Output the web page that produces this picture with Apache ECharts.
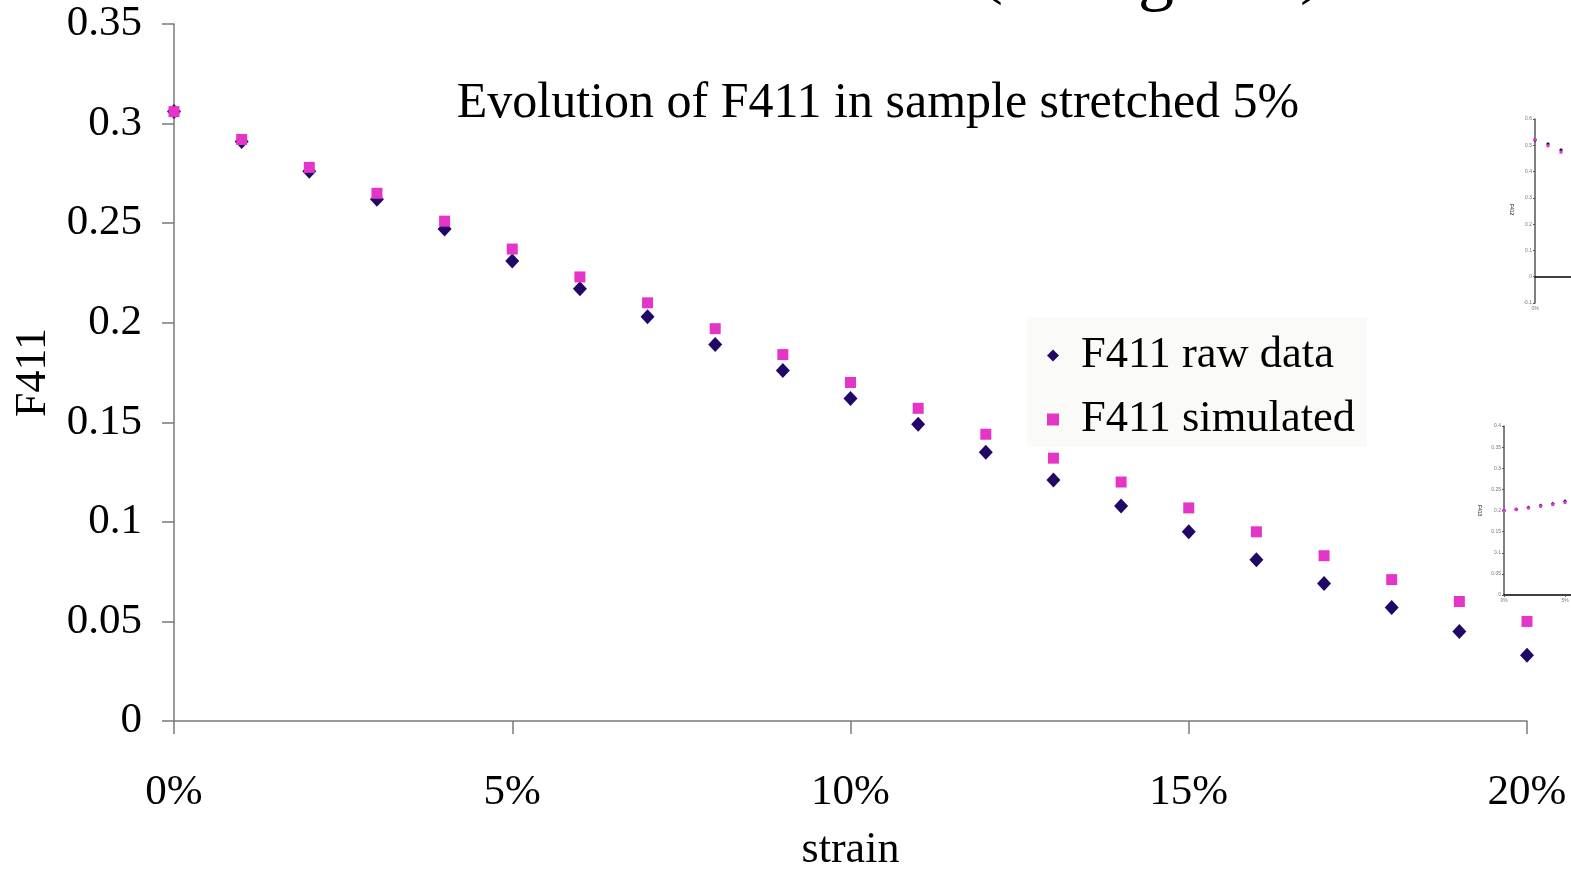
<!DOCTYPE html>
<html>
<head>
<meta charset="utf-8">
<script src="https://cdn.jsdelivr.net/npm/echarts@6/dist/echarts.min.js"></script>
<style>
html,body{margin:0;padding:0;background:#fff;}
#c{width:1571px;height:870px;}
</style>
</head>
<body>
<div id="c"></div>
<script>
// ---- data ----
const strain = [0,1,2,3,4,5,6,7,8,9,10,11,12,13,14,15,16,17,18,19,20]; // %
const rawData = [0.306,0.291,0.276,0.262,0.247,0.231,0.217,0.203,0.189,0.176,0.162,0.149,0.135,0.121,0.108,0.095,0.081,0.069,0.057,0.045,0.033];
const simData = [0.306,0.292,0.278,0.265,0.251,0.237,0.223,0.210,0.197,0.184,0.170,0.157,0.144,0.132,0.120,0.107,0.095,0.083,0.071,0.060,0.050];
const yTicks = [0,0.05,0.1,0.15,0.2,0.25,0.3,0.35];
const xTicks = [0,5,10,15,20];
// inset charts (partly visible at right edge)
const inset1Strain = [0,1,2];
const inset1Raw = [0.520,0.505,0.482];
const inset1Sim = [0.522,0.498,0.474];
const inset2Strain = [0,1,2,3,4,5];
const inset2Raw = [0.200,0.203,0.207,0.212,0.216,0.222];
const inset2Sim = [0.200,0.202,0.206,0.210,0.214,0.219];

const F = '"Liberation Serif", "Times New Roman", serif';
const AX = '#7a7a7a';
const DARK = '#220866';
const MAG = '#e535c9';

const pair = (xs, ys) => xs.map((x, i) => [x, ys[i]]);

const chart = echarts.init(document.getElementById('c'));
const smallAxis = {
  axisLine:{lineStyle:{color:'#555',width:1}},
  axisTick:{show:true,length:2,lineStyle:{color:'#555'}},
  axisLabel:{fontSize:5,color:'#777',margin:3},
  splitLine:{show:false}
};
chart.setOption({
  animation:false,
  backgroundColor:'#ffffff',
  graphic:[
    {type:'text',x:979,y:-65,style:{text:'(',font:'72px '+F,fill:'#000'}},
    {type:'text',x:1138,y:-58,style:{text:'g',font:'72px '+F,fill:'#000'}},
    {type:'text',x:1300,y:-65,style:{text:')',font:'72px '+F,fill:'#000'}},
    {type:'text',x:878,y:104,style:{text:'Evolution of F411 in sample stretched 5%',font:'50px '+F,fill:'#000',align:'center',verticalAlign:'middle'}},
    {type:'text',x:1514,y:204,rotation:-Math.PI/2,style:{text:'F412',font:'bold 5px Arial',fill:'#555'}},
    {type:'text',x:1482,y:505,rotation:-Math.PI/2,style:{text:'F413',font:'bold 5px Arial',fill:'#555'}}
  ],
  legend:{
    orient:'vertical',
    left:1027, top:317,
    backgroundColor:'#fafaf8',
    padding:[16,12,5,20],
    itemGap:19,
    itemWidth:12, itemHeight:12,
    textStyle:{fontFamily:F,fontSize:44.5,color:'#000',lineHeight:44,padding:[0,0,0,17]},
    data:[{name:'F411 raw data',icon:'diamond',itemStyle:{color:DARK}},{name:'F411 simulated',icon:'rect',itemStyle:{color:MAG}}]
  },
  grid:[
    {left:174,right:44,top:24,bottom:149,outerBoundsMode:'none',containLabel:false},
    {left:1535,top:119,width:260,height:184,outerBoundsMode:'none',containLabel:false},
    {left:1504,top:426,width:244,height:169,outerBoundsMode:'none',containLabel:false}
  ],
  xAxis:[
    {gridIndex:0,type:'value',min:0,max:20,interval:5,
     name:'strain',nameLocation:'middle',nameGap:107,
     nameTextStyle:{fontFamily:F,fontSize:44,color:'#000'},
     axisLine:{lineStyle:{color:AX,width:1.5}},
     axisTick:{show:true,length:13,lineStyle:{color:AX,width:1.5}},
     axisLabel:{fontFamily:F,fontSize:43,color:'#000',margin:50,formatter:'{value}%'},
     splitLine:{show:false}},
    {gridIndex:1,type:'value',min:0,max:20,interval:5,
     axisLabel:{fontSize:5,color:'#777',margin:3,formatter:'{value}%'},
     axisLine:{onZero:true,lineStyle:{color:'#000',width:1.5}},axisTick:{show:false},splitLine:{show:false}},
    Object.assign({gridIndex:2,type:'value',min:0,max:20,interval:5},smallAxis,{axisLine:{lineStyle:{color:'#000',width:1.5}},axisLabel:{fontSize:5,color:'#777',margin:3,formatter:'{value}%'}})
  ],
  yAxis:[
    {gridIndex:0,type:'value',min:0,max:0.35,interval:0.05,
     name:'F411',nameLocation:'middle',nameGap:119,nameRotate:90,
     nameTextStyle:{fontFamily:F,fontSize:44,color:'#000'},
     axisLine:{show:true,lineStyle:{color:AX,width:1.5}},
     axisTick:{show:true,length:12,lineStyle:{color:AX,width:1.5}},
     axisLabel:{fontFamily:F,fontSize:43,color:'#000',margin:32},
     splitLine:{show:false}},
    Object.assign({gridIndex:1,type:'value',min:-0.1,max:0.6,interval:0.1},smallAxis,{axisLine:{show:true,onZero:false,lineStyle:{color:'#555',width:1.5}}}),
    Object.assign({gridIndex:2,type:'value',min:0,max:0.4,interval:0.05},smallAxis,{axisLine:{show:true,lineStyle:{color:'#555',width:1.5}}})
  ],
  series:[
    {name:'F411 raw data',type:'scatter',xAxisIndex:0,yAxisIndex:0,symbol:'diamond',symbolSize:[14,15],
     itemStyle:{color:DARK,opacity:1},data:pair(strain,rawData),z:2},
    {name:'F411 simulated',type:'scatter',xAxisIndex:0,yAxisIndex:0,symbol:'rect',symbolSize:11,
     itemStyle:{color:MAG,opacity:1},data:pair(strain,simData),z:3},
    {type:'scatter',xAxisIndex:1,yAxisIndex:1,symbol:'diamond',symbolSize:4,itemStyle:{color:DARK,opacity:1},data:pair(inset1Strain,inset1Raw)},
    {type:'scatter',xAxisIndex:1,yAxisIndex:1,symbol:'rect',symbolSize:3,itemStyle:{color:MAG,opacity:1},data:pair(inset1Strain,inset1Sim)},
    {type:'scatter',xAxisIndex:2,yAxisIndex:2,symbol:'diamond',symbolSize:4,itemStyle:{color:DARK,opacity:1},data:pair(inset2Strain,inset2Raw)},
    {type:'scatter',xAxisIndex:2,yAxisIndex:2,symbol:'rect',symbolSize:3,itemStyle:{color:MAG,opacity:1},data:pair(inset2Strain,inset2Sim)}
  ]
});
</script>
</body>
</html>
